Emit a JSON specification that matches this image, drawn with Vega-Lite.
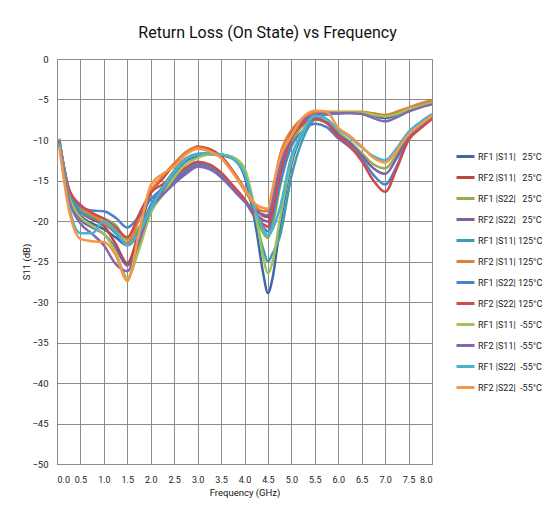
{
  "$schema": "https://vega.github.io/schema/vega-lite/v6.json",
  "width": 375,
  "height": 405,
  "autosize": {"type": "none"},
  "padding": {"left": 57, "top": 59, "right": 113, "bottom": 57},
  "background": "white",
  "title": {
    "text": "Return Loss (On State) vs Frequency",
    "font": "Roboto",
    "fontSize": 16,
    "fontWeight": "normal",
    "color": "#111111",
    "anchor": "middle",
    "dx": 23,
    "baseline": "alphabetic",
    "offset": 0
  },
  "data": {
    "values": [
      {"f": 0.05, "s1": -10, "s2": -10.2, "s3": -9.9, "s4": -10.1, "s5": -10.3, "s6": -10.5, "s7": -10, "s8": -10.2, "s9": -9.8, "s10": -10, "s11": -10.4, "s12": -10.9},
      {"f": 0.25, "s1": -16.5, "s2": -16, "s3": -16.3, "s4": -16.8, "s5": -16.2, "s6": -16, "s7": -16, "s8": -16, "s9": -16.8, "s10": -17.2, "s11": -18, "s12": -18.5},
      {"f": 0.5, "s1": -19.3, "s2": -18.8, "s3": -18.5, "s4": -19.8, "s5": -18.8, "s6": -18.3, "s7": -18.2, "s8": -18, "s9": -19.5, "s10": -20.3, "s11": -21.5, "s12": -22.2},
      {"f": 0.75, "s1": -20.3, "s2": -19.8, "s3": -19.4, "s4": -20.8, "s5": -19.6, "s6": -19.3, "s7": -18.7, "s8": -19, "s9": -20.6, "s10": -21.6, "s11": -21.5, "s12": -22.5},
      {"f": 1.0, "s1": -21, "s2": -20.6, "s3": -19.7, "s4": -21.6, "s5": -20.3, "s6": -20.2, "s7": -18.8, "s8": -19.7, "s9": -21.6, "s10": -23, "s11": -20, "s12": -22.6},
      {"f": 1.25, "s1": -22, "s2": -22.8, "s3": -20.5, "s4": -23.3, "s5": -21.5, "s6": -21.2, "s7": -19.6, "s8": -20.8, "s9": -23.8, "s10": -25.3, "s11": -21.2, "s12": -24.2},
      {"f": 1.5, "s1": -23, "s2": -25.2, "s3": -22.3, "s4": -25.5, "s5": -22.9, "s6": -22.7, "s7": -20.8, "s8": -22, "s9": -27, "s10": -26.2, "s11": -23, "s12": -27.4},
      {"f": 1.75, "s1": -21.5, "s2": -21.3, "s3": -20.8, "s4": -22.8, "s5": -21.2, "s6": -19.8, "s7": -19.4, "s8": -19.2, "s9": -23.5, "s10": -22.5, "s11": -21.5, "s12": -21.5},
      {"f": 2.0, "s1": -18.6, "s2": -16.5, "s3": -18.3, "s4": -18.8, "s5": -18, "s6": -16.3, "s7": -17.3, "s8": -16.5, "s9": -19, "s10": -18.5, "s11": -18.5, "s12": -15.6},
      {"f": 2.25, "s1": -16.3, "s2": -14.8, "s3": -16.6, "s4": -16.6, "s5": -15.8, "s6": -14.5, "s7": -16, "s8": -15.5, "s9": -16.8, "s10": -16.8, "s11": -16, "s12": -14.2},
      {"f": 2.5, "s1": -14.2, "s2": -13, "s3": -15, "s4": -15.2, "s5": -13.8, "s6": -12.9, "s7": -14.8, "s8": -14.5, "s9": -14.6, "s10": -15.4, "s11": -14, "s12": -13.3},
      {"f": 2.75, "s1": -12.6, "s2": -11.6, "s3": -13.8, "s4": -14, "s5": -12.3, "s6": -11.5, "s7": -13.6, "s8": -13.4, "s9": -13, "s10": -14.2, "s11": -12.4, "s12": -11.8},
      {"f": 3.0, "s1": -12, "s2": -10.8, "s3": -13, "s4": -13.2, "s5": -11.7, "s6": -10.9, "s7": -12.9, "s8": -12.7, "s9": -12.2, "s10": -13.3, "s11": -11.8, "s12": -11.1},
      {"f": 3.25, "s1": -11.8, "s2": -11.1, "s3": -13.2, "s4": -13.5, "s5": -11.6, "s6": -11.3, "s7": -13.2, "s8": -13, "s9": -11.8, "s10": -13.6, "s11": -11.6, "s12": -11.4},
      {"f": 3.5, "s1": -11.9, "s2": -12, "s3": -14.2, "s4": -14.5, "s5": -11.8, "s6": -12.2, "s7": -14.3, "s8": -14, "s9": -11.8, "s10": -14.6, "s11": -11.8, "s12": -12.2},
      {"f": 3.75, "s1": -12.3, "s2": -13.8, "s3": -15.8, "s4": -16, "s5": -12.2, "s6": -14, "s7": -15.9, "s8": -15.6, "s9": -12.1, "s10": -16.1, "s11": -12.3, "s12": -14},
      {"f": 4.0, "s1": -14.5, "s2": -16, "s3": -17.3, "s4": -17.5, "s5": -14, "s6": -16.2, "s7": -17.5, "s8": -17.3, "s9": -13.5, "s10": -17.6, "s11": -14.2, "s12": -16},
      {"f": 4.25, "s1": -21, "s2": -18.5, "s3": -19.6, "s4": -19.2, "s5": -20, "s6": -18.3, "s7": -19.8, "s8": -19.5, "s9": -19.5, "s10": -18.9, "s11": -19, "s12": -18},
      {"f": 4.4, "s1": -26.5, "s2": -19.4, "s3": -21.5, "s4": -19.9, "s5": -23.5, "s6": -18.8, "s7": -20.8, "s8": -20.4, "s9": -24.5, "s10": -19.2, "s11": -21, "s12": -18.4},
      {"f": 4.5, "s1": -28.9, "s2": -19.5, "s3": -22.1, "s4": -20.1, "s5": -25, "s6": -18.8, "s7": -21.3, "s8": -20.7, "s9": -26.5, "s10": -19.3, "s11": -21.8, "s12": -18.5},
      {"f": 4.6, "s1": -27, "s2": -17.5, "s3": -20.5, "s4": -18.3, "s5": -24, "s6": -16.3, "s7": -19.5, "s8": -18.7, "s9": -25, "s10": -17.5, "s11": -21, "s12": -16},
      {"f": 4.75, "s1": -21, "s2": -13.5, "s3": -16, "s4": -14.5, "s5": -22, "s6": -12, "s7": -15.5, "s8": -14.5, "s9": -20, "s10": -13.5, "s11": -18.5, "s12": -12.3},
      {"f": 5.0, "s1": -13, "s2": -9.2, "s3": -10.5, "s4": -9.8, "s5": -14.5, "s6": -8.8, "s7": -10.8, "s8": -9.8, "s9": -12.5, "s10": -9.3, "s11": -12, "s12": -9.5},
      {"f": 5.25, "s1": -9, "s2": -7.6, "s3": -8.2, "s4": -7.8, "s5": -9.8, "s6": -7.3, "s7": -8.8, "s8": -8, "s9": -8.8, "s10": -7.6, "s11": -9, "s12": -7.2},
      {"f": 5.5, "s1": -7.3, "s2": -6.8, "s3": -7.5, "s4": -7.3, "s5": -7.4, "s6": -6.6, "s7": -8, "s8": -7.4, "s9": -7, "s10": -6.9, "s11": -7, "s12": -6.4},
      {"f": 5.75, "s1": -6.8, "s2": -6.6, "s3": -7.8, "s4": -7.8, "s5": -6.9, "s6": -6.5, "s7": -8.4, "s8": -7.9, "s9": -6.7, "s10": -6.7, "s11": -7.4, "s12": -6.5},
      {"f": 6.0, "s1": -6.7, "s2": -6.6, "s3": -9.1, "s4": -9.3, "s5": -6.7, "s6": -6.5, "s7": -9.8, "s8": -9.6, "s9": -6.6, "s10": -6.7, "s11": -8.7, "s12": -8.5},
      {"f": 6.25, "s1": -6.6, "s2": -6.6, "s3": -10.2, "s4": -10.4, "s5": -6.6, "s6": -6.5, "s7": -10.9, "s8": -10.8, "s9": -6.6, "s10": -6.7, "s11": -9.7, "s12": -9.5},
      {"f": 6.5, "s1": -6.7, "s2": -6.6, "s3": -11.6, "s4": -11.9, "s5": -6.6, "s6": -6.5, "s7": -12.3, "s8": -12.6, "s9": -6.6, "s10": -6.8, "s11": -10.9, "s12": -10.8},
      {"f": 6.75, "s1": -7, "s2": -6.8, "s3": -13, "s4": -13.5, "s5": -6.9, "s6": -6.7, "s7": -14.3, "s8": -15, "s9": -6.9, "s10": -7.3, "s11": -12, "s12": -12.2},
      {"f": 7.0, "s1": -7.3, "s2": -7, "s3": -13.5, "s4": -14.2, "s5": -7.1, "s6": -6.9, "s7": -15.5, "s8": -16.4, "s9": -7.1, "s10": -7.7, "s11": -12.5, "s12": -12.8},
      {"f": 7.25, "s1": -6.9, "s2": -6.7, "s3": -11.8, "s4": -12.2, "s5": -6.7, "s6": -6.5, "s7": -13.2, "s8": -13.5, "s9": -6.8, "s10": -7.2, "s11": -11, "s12": -11.3},
      {"f": 7.5, "s1": -6.3, "s2": -6.2, "s3": -9.4, "s4": -9.6, "s5": -6.2, "s6": -6, "s7": -9.8, "s8": -10, "s9": -6.2, "s10": -6.5, "s11": -9, "s12": -9.3},
      {"f": 7.75, "s1": -5.9, "s2": -5.7, "s3": -8.1, "s4": -8.3, "s5": -5.7, "s6": -5.5, "s7": -8.4, "s8": -8.6, "s9": -5.8, "s10": -6, "s11": -7.8, "s12": -8.1},
      {"f": 8.0, "s1": -5.5, "s2": -5.3, "s3": -7, "s4": -7.1, "s5": -5.3, "s6": -5.1, "s7": -7.2, "s8": -7.4, "s9": -5.4, "s10": -5.6, "s11": -6.8, "s12": -7}
    ]
  },
  "transform": [
    {"fold": ["s1", "s2", "s3", "s4", "s5", "s6", "s7", "s8", "s9", "s10", "s11", "s12"], "as": ["key", "v"]},
    {
      "lookup": "key",
      "from": {
        "data": {
          "values": [
            {"key": "s1", "name": "RF1 |S11|\u00a0\u00a0\u00a025°C"},
            {"key": "s2", "name": "RF2 |S11|\u00a0\u00a0\u00a025°C"},
            {"key": "s3", "name": "RF1 |S22|\u00a0\u00a0\u00a025°C"},
            {"key": "s4", "name": "RF2 |S22|\u00a0\u00a0\u00a025°C"},
            {"key": "s5", "name": "RF1 |S11| 125°C"},
            {"key": "s6", "name": "RF2 |S11| 125°C"},
            {"key": "s7", "name": "RF1 |S22| 125°C"},
            {"key": "s8", "name": "RF2 |S22| 125°C"},
            {"key": "s9", "name": "RF1 |S11|\u00a0\u00a0-55°C"},
            {"key": "s10", "name": "RF2 |S11|\u00a0\u00a0-55°C"},
            {"key": "s11", "name": "RF1 |S22|\u00a0\u00a0-55°C"},
            {"key": "s12", "name": "RF2 |S22|\u00a0\u00a0-55°C"}
          ]
        },
        "key": "key",
        "fields": ["name"]
      }
    }
  ],
  "mark": {"type": "line", "interpolate": "monotone", "strokeWidth": 2.5},
  "encoding": {
    "x": {
      "field": "f",
      "type": "quantitative",
      "scale": {"domain": [0, 8], "nice": false, "zero": false},
      "axis": {
        "values": [0, 0.5, 1, 1.5, 2, 2.5, 3, 3.5, 4, 4.5, 5, 5.5, 6, 6.5, 7, 7.5, 8],
        "format": ".1f",
        "title": "Frequency (GHz)",
        "labelFontSize": 9,
        "labelPadding": 11,
        "titlePadding": 3
      }
    },
    "y": {
      "field": "v",
      "type": "quantitative",
      "scale": {"domain": [-50, 0], "nice": false},
      "axis": {
        "values": [0, -5, -10, -15, -20, -25, -30, -35, -40, -45, -50],
        "format": "d",
        "title": "S11 (dB)",
        "labelPadding": 9,
        "titlePadding": 0
      }
    },
    "color": {
      "field": "name",
      "type": "nominal",
      "scale": {
        "domain": [
          "RF1 |S11|\u00a0\u00a0\u00a025°C", "RF2 |S11|\u00a0\u00a0\u00a025°C", "RF1 |S22|\u00a0\u00a0\u00a025°C", "RF2 |S22|\u00a0\u00a0\u00a025°C",
          "RF1 |S11| 125°C", "RF2 |S11| 125°C", "RF1 |S22| 125°C", "RF2 |S22| 125°C",
          "RF1 |S11|\u00a0\u00a0-55°C", "RF2 |S11|\u00a0\u00a0-55°C", "RF1 |S22|\u00a0\u00a0-55°C", "RF2 |S22|\u00a0\u00a0-55°C"
        ],
        "range": ["#3D69AA", "#B9463F", "#8DB04B", "#7D5FA6", "#3C9BB5", "#DE8039", "#4C82CC", "#D14A48", "#A0C25A", "#8467AE", "#48B2D2", "#F79646"]
      },
      "legend": {
        "title": null,
        "orient": "none",
        "legendX": 398,
        "legendY": 87,
        "padding": 0,
        "symbolType": "stroke",
        "symbolStrokeWidth": 3,
        "symbolSize": 324,
        "labelFont": "Roboto",
        "labelFontSize": 9,
        "labelColor": "#222222",
        "labelOffset": 2,
        "rowPadding": 4
      }
    }
  },
  "config": {
    "view": {"stroke": "#8c8c8c", "strokeWidth": 1},
    "axis": {
      "grid": true,
      "gridColor": "#8c8c8c",
      "gridWidth": 1,
      "gridOpacity": 1,
      "domainColor": "#8c8c8c",
      "ticks": false,
      "labelFont": "Roboto",
      "labelFontSize": 9.5,
      "labelColor": "#222222",
      "titleFont": "Roboto",
      "titleFontSize": 9.5,
      "titleFontWeight": "normal",
      "titleColor": "#111111"
    }
  }
}
